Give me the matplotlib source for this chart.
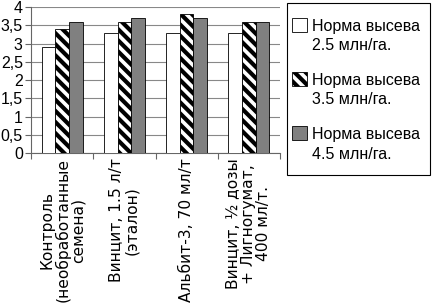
import numpy as np
import matplotlib.pyplot as plt
from matplotlib.patches import Rectangle
from matplotlib.ticker import FuncFormatter

plt.rcParams['font.family'] = ['Liberation Sans', 'DejaVu Sans']
plt.rcParams['hatch.linewidth'] = 3.0

categories = ["Контроль\n(необработанные\nсемена)",
              "Винцит, 1.5 л/т\n(эталон)",
              "Альбит-3, 70 мл/т",
              "Винцит, ½ дозы\n+ Лигногумат,\n400 мл/т."]
series_names = ["Норма высева\n2.5 млн/га.",
                "Норма высева\n3.5 млн/га.",
                "Норма высева\n4.5 млн/га."]
rate_25 = [2.9, 3.3, 3.3, 3.3]
rate_35 = [3.4, 3.6, 3.8, 3.6]
rate_45 = [3.6, 3.7, 3.7, 3.6]

W, H = 432, 306
fig = plt.figure(figsize=(W / 100, H / 100), dpi=100)
ax = fig.add_axes([0.072, 0.5, 0.576, 0.477])

x = np.arange(len(categories))
w = 0.22
styles = [dict(facecolor="white", edgecolor="black"),
          dict(facecolor="white", edgecolor="black", hatch="\\\\\\"),
          dict(facecolor="#808080", edgecolor="black")]
for k, vals in enumerate([rate_25, rate_35, rate_45]):
    ax.bar(x + (k - 1) * w, vals, w, linewidth=0.6, zorder=3, **styles[k])

ax.set_xlim(-0.5, 3.5)
ax.set_ylim(0, 4)
ax.set_yticks(np.arange(0, 4.01, 0.5))
ax.yaxis.set_major_formatter(FuncFormatter(lambda v, p: ("%g" % v).replace(".", ",")))
ax.grid(axis="y", color="#888888", linewidth=0.8, zorder=0)
for s in ["top", "right"]:
    ax.spines[s].set_visible(False)
ax.spines["left"].set_color("#666666")
ax.spines["bottom"].set_color("#666666")
ax.tick_params(axis="y", labelsize=11.5, length=4, color="#666666", pad=2)

ax.set_xticks(np.arange(-0.5, 3.6, 1.0))
ax.set_xticklabels([])
ax.tick_params(axis="x", length=4, color="#666666")
for i, lab in enumerate(categories):
    ax.text(i, -0.15, lab, rotation=90, ha="center", va="top", multialignment="center",
            fontsize=11.2, linespacing=1.0, family=["DejaVu Sans"])

# legend box drawn by hand so the swatch sits on the first line of each label
fig.add_artist(Rectangle((287 / W, 1 - 175 / H), 143 / W, 172 / H, transform=fig.transFigure,
                         facecolor="white", edgecolor="black", linewidth=0.8, zorder=1))
for k, name in enumerate(series_names):
    top = 18 + 54 * k
    fig.add_artist(Rectangle((292 / W, 1 - (top + 14) / H), 15 / W, 14 / H,
                             transform=fig.transFigure, linewidth=0.6, zorder=2, **styles[k]))
    line1, line2 = name.split("\n")
    fig.text(312 / W, 1 - (top + 13.5) / H, line1, fontsize=11.5, va="baseline")
    fig.text(312 / W, 1 - (top + 32.5) / H, line2, fontsize=11.5, va="baseline")

plt.savefig("out.png", dpi=100)
